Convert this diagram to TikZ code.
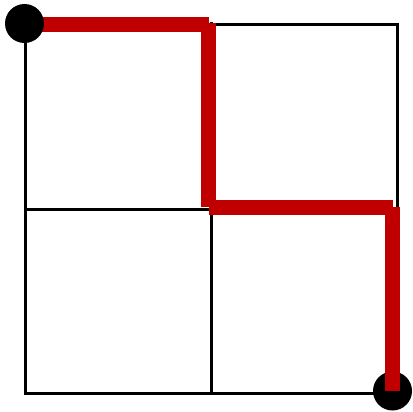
\documentclass[tikz,border=0pt]{standalone}
\definecolor{pathred}{RGB}{192,0,0}
\tikzset{
  gridline/.style={draw=black,line width=3pt},
  redseg/.style={draw=pathred,line width=15pt,line cap=butt},
  enddot/.style={circle,fill=black,inner sep=0pt,minimum size=39pt}
}
\begin{document}
\begin{tikzpicture}[x=1pt,y=-1pt]
\useasboundingbox (0,0) rectangle (412,412);
% grid corners
\coordinate (tl) at (25.5,24.5);
\coordinate (br) at (397.5,393.5);
\coordinate (mt) at (211.5,22.5);
\coordinate (mb) at (211.5,393.5);
\coordinate (ml) at (25.5,209.5);
\coordinate (mr) at (397.5,209.5);
\draw[gridline] (tl) rectangle (br);
\draw[gridline] (mt) -- (mb);
\draw[gridline] (ml) -- (mr);
% end dot (bottom right) under the path
\node[enddot] (finish) at (392.5,391) {};
% red path segments
\coordinate (p1) at (42,24.5);
\coordinate (p2) at (209,24.5);
\coordinate (q1) at (208.5,23);
\coordinate (q2) at (208.5,207);
\coordinate (r1) at (209,207.5);
\coordinate (r2) at (393,207.5);
\coordinate (s1) at (392.5,207);
\coordinate (s2) at (392.5,391);
\draw[redseg] (p1) -- (p2);
\draw[redseg] (q1) -- (q2);
\draw[redseg] (r1) -- (r2);
\draw[redseg] (s1) -- (s2);
% start dot (top left)
\node[enddot] (start) at (24.5,23.5) {};
\end{tikzpicture}
\end{document}
